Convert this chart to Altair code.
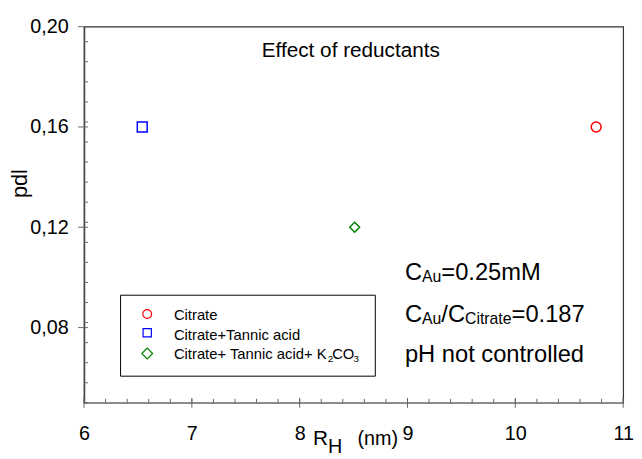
import altair as alt
import pandas as pd

# ---------------- data ----------------
series = ["Citrate", "Citrate+Tannic acid", "Citrate+ Tannic acid+ K2CO3"]
rh_nm = [10.75, 6.54, 8.51]
pdi = [0.160, 0.160, 0.120]
colors = ["#ff0000", "#0000ff", "#008000"]
shapes = ["circle", "square", "diamond"]

x_major = [6, 7, 8, 9, 10, 11]
y_major = [0.08, 0.12, 0.16, 0.20]
x_minor = [round(6 + 0.2 * i, 2) for i in range(26)]
y_minor = [round(0.05 + 0.008 * i, 3) for i in range(19) if 0.05 + 0.008 * i <= 0.2001]

# ---------------- layout ----------------
W, H = 546, 381
FONT = "Liberation Sans, Arial, sans-serif"

AW = {" ": 278, "(": 333, ")": 333, "+": 584, ".": 278, "/": 278, "=": 584,
      "A": 667, "C": 722, "H": 722, "K": 667, "M": 833, "O": 778, "T": 611,
      "a": 556, "c": 500, "d": 556, "e": 556, "f": 278, "i": 222, "l": 222,
      "m": 833, "n": 556, "o": 556, "p": 556, "r": 333, "s": 500, "t": 278,
      "u": 556}


def tw(s, size):
    return sum(AW.get(ch, 556) for ch in s) * size / 1000.0


def txt(s, x, y, size, align="left", angle=0, color="black"):
    return alt.Chart(pd.DataFrame({"t": [s]})).mark_text(
        align=align, baseline="alphabetic", fontSize=size, font=FONT,
        color=color, angle=angle
    ).encode(text="t:N", x=alt.value(x), y=alt.value(y))


def run(pieces, x0, y0, adjust=0):
    out = []
    x = x0
    for s, size, dy in pieces:
        out.append(txt(s, x, y0 + dy, size))
        x += tw(s, size) + adjust
    return out


xs = alt.Scale(domain=[6, 11], nice=False, zero=False)
ys = alt.Scale(domain=[0.05, 0.20], nice=False, zero=False)

x_axis = alt.Axis(values=x_major, tickSize=0, labelPadding=21, labelFontSize=20,
                  labelFont=FONT, labelColor="black", grid=False, title=None,
                  domainColor="#888888", domainWidth=1.5, labelFlush=False)
y_axis = alt.Axis(values=y_major, tickSize=0, labelPadding=16, labelFontSize=20,
                  labelFont=FONT, labelColor="black", grid=False, title=None,
                  domainColor="#444444", domainWidth=1.5,
                  labelExpr="replace(format(datum.value, '.2f'), '.', ',')")

df = pd.DataFrame({"series": series, "rh": rh_nm, "pdi": pdi})

points = alt.Chart(df).mark_point(filled=False, strokeWidth=1.5, opacity=1).encode(
    x=alt.X("rh:Q", scale=xs, axis=x_axis),
    y=alt.Y("pdi:Q", scale=ys, axis=y_axis),
    color=alt.Color("series:N", scale=alt.Scale(domain=series, range=colors), legend=None),
    shape=alt.Shape("series:N", scale=alt.Scale(domain=series, range=shapes), legend=None),
    size=alt.Size("series:N", scale=alt.Scale(domain=series, range=[100, 100, 169]), legend=None),
)

xmin_df = pd.DataFrame({"rh": x_minor})
xmaj_df = pd.DataFrame({"rh": x_major})
ymin_df = pd.DataFrame({"pdi": y_minor})
ymaj_df = pd.DataFrame({"pdi": y_major})

tick_col = "#666666"
xminor_l = alt.Chart(xmin_df).mark_rule(color=tick_col, strokeWidth=1).encode(
    x=alt.X("rh:Q", scale=xs, axis=x_axis), y=alt.value(H - 4), y2=alt.value(H))
xmajor_l = alt.Chart(xmaj_df).mark_rule(color=tick_col, strokeWidth=1).encode(
    x=alt.X("rh:Q", scale=xs, axis=x_axis), y=alt.value(H - 5), y2=alt.value(H + 5))
yminor_l = alt.Chart(ymin_df).mark_rule(color=tick_col, strokeWidth=1).encode(
    y=alt.Y("pdi:Q", scale=ys, axis=y_axis), x=alt.value(0), x2=alt.value(4))
ymajor_l = alt.Chart(ymaj_df).mark_rule(color=tick_col, strokeWidth=1).encode(
    y=alt.Y("pdi:Q", scale=ys, axis=y_axis), x=alt.value(-6), x2=alt.value(4))

layers = [points, xminor_l, xmajor_l, yminor_l, ymajor_l]

# legend box
legend_box = alt.Chart(pd.DataFrame({"a": [0]})).mark_rect(
    fill="white", stroke="black", strokeWidth=1
).encode(x=alt.value(37), x2=alt.value(295), y=alt.value(272), y2=alt.value(354))
layers.append(legend_box)

leg_sym_y = [291, 310, 331]
leg_sizes = [80, 70, 120]
for i in range(3):
    layers.append(
        alt.Chart(pd.DataFrame({"s": [series[i]]})).mark_point(
            filled=False, strokeWidth=1.2, opacity=1, shape=shapes[i],
            color=colors[i], size=leg_sizes[i]
        ).encode(x=alt.value(64), y=alt.value(leg_sym_y[i]))
    )

LX = 91
layers += run([("Citrate", 15, 0)], LX, 297)
layers += run([("Citrate+Tannic acid", 15, 0)], LX, 317)
layers += run([("Citrate+ Tannic acid+ K", 15, 0), ("2", 10, 3), ("CO", 15, 0), ("3", 10, 3)],
              LX, 337, adjust=-1)

# annotations
layers.append(txt("Effect of reductants", 180, 31, 21))
AX = 325
layers += run([("C", 24, 0), ("Au", 16, 2), ("=0.25mM", 24, 0)], AX, 257)
layers += run([("C", 24, 0), ("Au", 16, 2), ("/C", 24, 0), ("Citrate", 16, 2), ("=0.187", 24, 0)], AX, 299)
layers += run([("pH not controlled", 24, 0)], AX, 340)

# axis titles
layers.append(txt("pdl", -58, 159, 22, align="center", angle=270))
layers.append(txt("R", 232, 424, 21))
layers.append(txt("H", 247, 432, 20))
layers.append(txt("(nm)", 277, 424, 20))

chart = alt.layer(*layers).properties(
    width=W, height=H,
    autosize=alt.AutoSizeParams(type="none"),
    padding={"left": 77, "top": 16, "right": 11, "bottom": 54},
).configure_view(stroke="#333333", strokeWidth=1.2)

chart.save("out.html", embed_options={"renderer": "svg", "actions": False})
